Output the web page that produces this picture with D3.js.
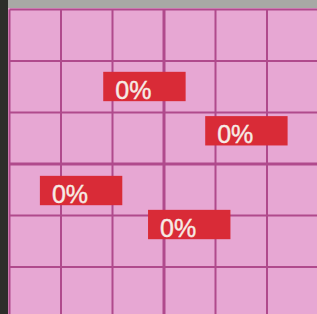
<!DOCTYPE html>
<html><head><meta charset="utf-8">
<script src="https://cdn.jsdelivr.net/npm/d3@7"></script>
<style>html,body{margin:0;padding:0;background:#a9aaa6;}svg{display:block;}</style>
</head><body>
<script>
// ---- data ----
const labelValues = [0, 0, 0, 0];
const labelCols   = [1.82, 3.80, 0.59, 2.69];   // left edge in grid units
const labelRows   = [1.21, 2.07, 3.23, 3.89];   // top edge in grid units
const gridTicks   = [0, 1, 2, 3, 4, 5, 6];

const W = 317, H = 314;
const svg = d3.select("body").append("svg").attr("width", W).attr("height", H);

const x = d3.scaleLinear().domain([0, 6]).range([9.5, 318.5]);
const y = d3.scaleLinear().domain([0, 6]).range([9.5, 318.5]);

// background pieces
svg.append("rect").attr("x",0).attr("y",0).attr("width",W).attr("height",H).attr("fill","#a8a9a5");
svg.append("rect").attr("x",0).attr("y",0).attr("width",8).attr("height",H).attr("fill","#2c2e2a");
svg.append("rect").attr("x",8).attr("y",8).attr("width",W-8).attr("height",H-8).attr("fill","#e7a7d3");

// grid
const g = svg.append("g");
g.selectAll("line.v").data(gridTicks).join("line").attr("class","v")
  .attr("x1", d => x(d)).attr("x2", d => x(d))
  .attr("y1", y(0)).attr("y2", H)
  .attr("stroke","#b04a8c").attr("stroke-width", d => d === 3 ? 3 : 2);
g.selectAll("line.h").data(gridTicks).join("line").attr("class","h")
  .attr("y1", d => y(d)).attr("y2", d => y(d))
  .attr("x1", x(0)).attr("x2", W)
  .attr("stroke","#b04a8c").attr("stroke-width", d => d === 3 ? 3 : 2);

// labels
const boxW = 1.6, boxH = 0.57;
const lab = svg.append("g").selectAll("g").data(labelValues).join("g")
  .attr("transform", (d,i) => `translate(${x(labelCols[i])},${y(labelRows[i])})`);
lab.append("rect")
  .attr("width", x(boxW) - x(0)).attr("height", y(boxH) - y(0))
  .attr("fill","#d92b37");
lab.append("text")
  .attr("x", 12).attr("y", 27)
  .attr("font-family","Liberation Sans, Arial, sans-serif")
  .attr("font-size", 25)
  .attr("fill","#f6ece6")
  .attr("stroke","#f6ece6").attr("stroke-width", 0.4)
  .text(d => d3.format(".0%")(d));
</script>
</body></html>
